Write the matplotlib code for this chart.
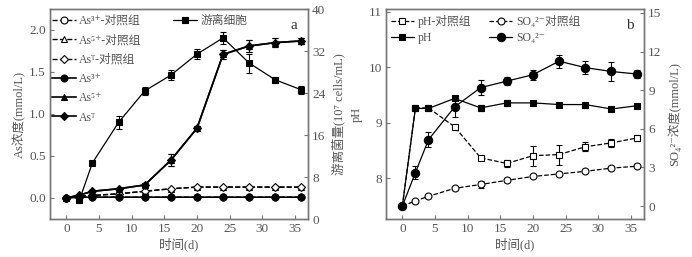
import matplotlib
matplotlib.use('Agg')
import matplotlib.pyplot as plt

plt.rcParams['font.family'] = ['Liberation Serif', 'DejaVu Serif', 'DejaVu Sans',
                               'Noto Sans CJK SC']
plt.rcParams['font.size'] = 9
plt.rcParams['axes.unicode_minus'] = False

TXT = '#555555'
SPINE = '#777777'

# time points (d)
days = [0, 2, 4, 8, 12, 16, 20, 24, 28, 32, 36]

# panel a: As (mmol/L)
as3_ctrl = [0.0, 0.01, 0.01, 0.01, 0.01, 0.01, 0.01, 0.01, 0.01, 0.01, 0.01]
as5_ctrl = [0.0, 0.02, 0.03, 0.05, 0.08, 0.11, 0.13, 0.13, 0.13, 0.13, 0.13]
ast_ctrl = [0.0, 0.02, 0.03, 0.05, 0.08, 0.11, 0.13, 0.13, 0.13, 0.13, 0.13]
as3 = [0.0, 0.01, 0.01, 0.01, 0.01, 0.01, 0.01, 0.01, 0.01, 0.01, 0.01]
as5 = [0.0, 0.035, 0.08, 0.11, 0.155, 0.45, 0.83, 1.71, 1.81, 1.85, 1.87]
ast = [0.0, 0.035, 0.08, 0.11, 0.155, 0.45, 0.83, 1.71, 1.81, 1.85, 1.87]
as_err = [0, 0, 0, 0, 0.02, 0.07, 0.03, 0.05, 0.07, 0.05, 0.04]

# free cells (10^7 cells/mL)
cell_days = [2, 4, 8, 12, 16, 20, 24, 28, 32, 36]
cells = [3.6, 10.7, 18.4, 24.4, 27.4, 31.4, 34.5, 29.7, 26.5, 24.6]
cells_err = [0.3, 0.3, 1.2, 0.8, 0.9, 0.9, 1.2, 1.8, 0.6, 0.8]

# panel b
ph_ctrl = [7.5, 9.27, 9.27, 8.93, 8.37, 8.27, 8.41, 8.43, 8.57, 8.64, 8.73]
ph_ctrl_err = [0, 0.02, 0.02, 0.02, 0.03, 0.06, 0.18, 0.18, 0.08, 0.07, 0.06]
ph = [7.5, 9.26, 9.26, 9.44, 9.27, 9.36, 9.36, 9.33, 9.33, 9.25, 9.31]
ph_err = [0, 0.03, 0.02, 0.03, 0.05, 0.05, 0.03, 0.02, 0.02, 0.02, 0.02]
so4_ctrl = [0.0, 0.4, 0.76, 1.38, 1.68, 2.0, 2.3, 2.5, 2.7, 2.95, 3.1]
so4_ctrl_err = [0, 0.1, 0.1, 0.1, 0.25, 0.15, 0.15, 0.15, 0.1, 0.15, 0.15]
so4 = [0.0, 2.6, 5.15, 7.7, 9.2, 9.7, 10.2, 11.25, 10.75, 10.45, 10.25]
so4_err = [0, 0.5, 0.6, 0.8, 0.6, 0.3, 0.4, 0.5, 0.5, 0.7, 0.3]

fig = plt.figure(figsize=(6.92, 2.57), dpi=100)


def style(ax):
    for s in ax.spines.values():
        s.set_color(SPINE)
        s.set_linewidth(1.0)
    ax.tick_params(direction='in', colors=SPINE, labelcolor=TXT,
                   length=3, width=0.8, labelsize=9.5, pad=3)


def line(ax, x, y, err, marker, mfc, ls, label=None, lw=1.0, ms=5):
    if err is not None:
        ax.errorbar(x, y, yerr=err, fmt='none', ecolor='black',
                    capsize=2, elinewidth=0.8, capthick=0.8)
    h, = ax.plot(x, y, marker=marker, mfc=mfc, mec='black', color='black',
                 ls=ls, lw=lw, ms=ms, mew=0.8, label=label)
    return h


# ---- panel a ----
ax1 = fig.add_axes([50 / 692, 1 - 219 / 257, 258 / 692, 210 / 257])
ax1b = ax1.twinx()
line(ax1, days, as3_ctrl, None, 'o', 'white', '--', 'As³⁺-对照组')
line(ax1, days, as5_ctrl, None, '^', 'white', '--', 'As⁵⁺-对照组')
line(ax1, days, ast_ctrl, None, 'D', 'white', '--', 'Asᵀ-对照组', ms=4.5)
line(ax1, days, as3, None, 'o', 'black', '-', 'As³⁺', lw=1.2)
line(ax1, days, as5, as_err, '^', 'black', '-', 'As⁵⁺', lw=1.2)
line(ax1, days, ast, as_err, 'D', 'black', '-', 'Asᵀ', lw=1.2, ms=4.5)
line(ax1b, cell_days, cells, cells_err, 's', 'black', '-', '游离细胞', lw=0.9)

ax1.set_xlim(-2.5, 37)
ax1.set_ylim(-0.25, 2.25)
ax1.set_yticks([0.0, 0.5, 1.0, 1.5, 2.0])
ax1.set_xticks([0, 5, 10, 15, 20, 25, 30, 35])
ax1b.set_ylim(0, 40)
ax1b.set_yticks([0, 8, 16, 24, 32, 40])
style(ax1)
style(ax1b)
ax1.set_ylabel('As浓度(mmol/L)', color=TXT, labelpad=2)
ax1b.set_ylabel('游离菌量(10⁷ cells/mL)', color=TXT, labelpad=4)
ax1.set_xlabel('时间(d)', color=TXT, labelpad=2)
ax1.text(0.96, 0.92, 'a', transform=ax1.transAxes, ha='right', va='center',
         fontsize=11, color='#333333')
ax1.legend(loc='upper left', bbox_to_anchor=(-0.02, 1.005), frameon=False,
           handlelength=2.0, handletextpad=0.3, labelspacing=0.62,
           fontsize=8.5, labelcolor=TXT, borderaxespad=0.2)
ax1b.legend(loc='upper left', bbox_to_anchor=(0.45, 1.005), frameon=False,
            handlelength=2.0, handletextpad=0.3, fontsize=8.5,
            labelcolor=TXT, borderaxespad=0.2)

# ---- panel b ----
ax2 = fig.add_axes([386 / 692, 1 - 219 / 257, 258 / 692, 210 / 257])
ax2b = ax2.twinx()
h1 = line(ax2, days, ph_ctrl, ph_ctrl_err, 's', 'white', '--', lw=0.9)
h2 = line(ax2, days, ph, ph_err, 's', 'black', '-', lw=0.9)
h3 = line(ax2b, days, so4_ctrl, so4_ctrl_err, 'o', 'white', '--', lw=0.9)
h4 = line(ax2b, days, so4, so4_err, 'o', 'black', '-', lw=0.9, ms=6)
ax2.set_xlim(-2.5, 37)
ax2.set_ylim(7.27, 11.05)
ax2.set_yticks([8, 9, 10, 11])
ax2.set_xticks([0, 5, 10, 15, 20, 25, 30, 35])
ax2b.set_ylim(-1.0, 15.3)
ax2b.set_yticks([0, 3, 6, 9, 12, 15])
style(ax2)
style(ax2b)
ax2.set_ylabel('pH', color=TXT, labelpad=4)
ax2b.set_ylabel('SO₄²⁻浓度(mmol/L)', color=TXT, labelpad=4)
ax2.set_xlabel('时间(d)', color=TXT, labelpad=2)
ax2.text(0.96, 0.92, 'b', transform=ax2.transAxes, ha='right', va='center',
         fontsize=11, color='#333333')
ax2.legend([h1, h2, h3, h4], ['pH-对照组', 'pH', 'SO₄²⁻对照组', 'SO₄²⁻'],
           loc='upper left', bbox_to_anchor=(-0.01, 1.005), ncol=2,
           frameon=False, handlelength=2.0, handletextpad=0.3,
           columnspacing=1.5, labelspacing=0.35, fontsize=8.5,
           labelcolor=TXT, borderaxespad=0.2)

fig.savefig('out.png', dpi=100)
